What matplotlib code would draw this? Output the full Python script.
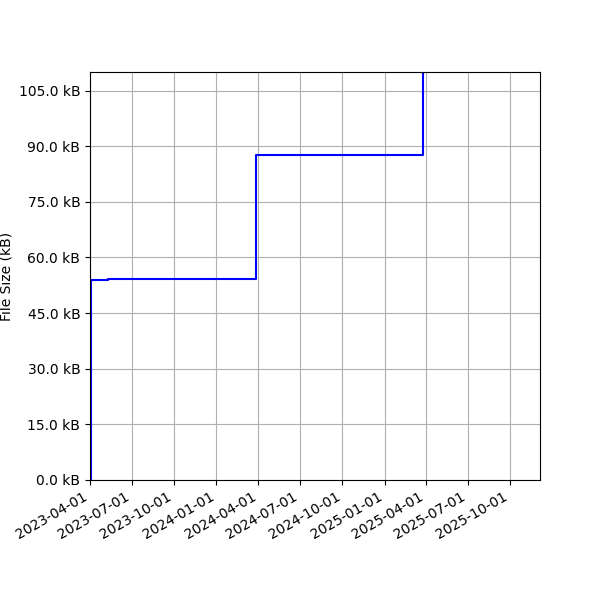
import datetime as dt
import matplotlib
matplotlib.use("Agg")
import matplotlib.pyplot as plt
import matplotlib.dates as mdates
from matplotlib.ticker import FuncFormatter

# file size history (kB)
dates = [dt.datetime(2023, 4, 1), dt.datetime(2023, 4, 3), dt.datetime(2023, 5, 10),
         dt.datetime(2024, 3, 27), dt.datetime(2025, 3, 26), dt.datetime(2025, 12, 5)]
sizes = [0.0, 53.8, 54.3, 87.5, 140.0, 140.0]

fig, ax = plt.subplots(figsize=(6, 6), dpi=100)
ax.plot(dates, sizes, color="blue", drawstyle="steps-post")

ax.set_ylim(0, 110)
ax.set_xlim(dt.datetime(2023, 4, 1), dt.datetime(2025, 12, 5))
ax.set_yticks([0, 15, 30, 45, 60, 75, 90, 105])
ax.yaxis.set_major_formatter(FuncFormatter(lambda v, p: f"{v:.1f} kB"))
ax.xaxis.set_major_locator(mdates.MonthLocator(bymonth=[1, 4, 7, 10]))
ax.xaxis.set_major_formatter(mdates.DateFormatter("%Y-%m-%d"))
ax.set_ylabel("File Size (kB)")
ax.grid(True)
fig.autofmt_xdate()
fig.subplots_adjust(left=0.15, right=0.9, bottom=0.2, top=0.88)

plt.savefig("out.png")
